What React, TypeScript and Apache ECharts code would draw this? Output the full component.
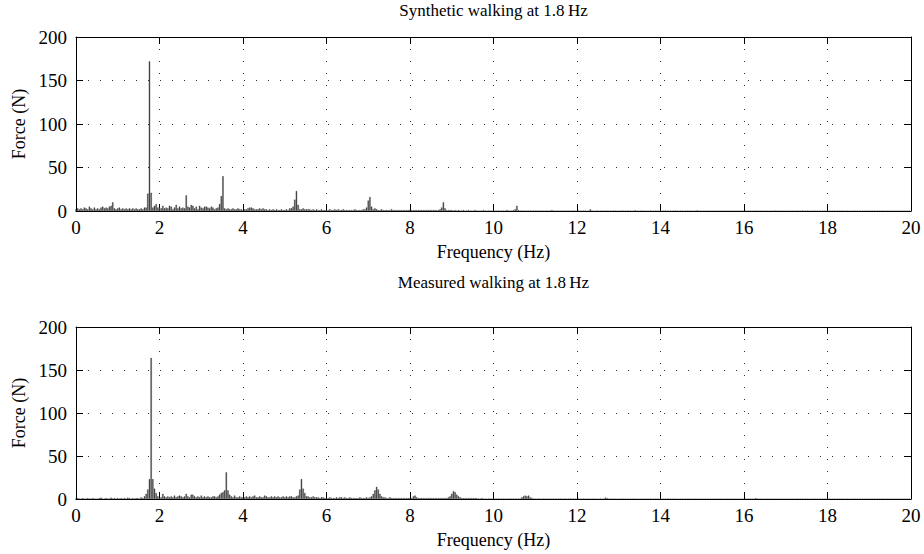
import React, { useEffect, useRef } from "react";
import * as echarts from "echarts";

// Frequency resolution of the spectra (Hz per bar)
const FREQ_STEP = 0.04;
const X_TICKS = [0, 2, 4, 6, 8, 10, 12, 14, 16, 18, 20];
const Y_TICKS = [0, 50, 100, 150, 200];
const TITLES = ["Synthetic walking at 1.8\u2009Hz", "Measured walking at 1.8\u2009Hz"];
const X_NAME = "Frequency (Hz)";
const Y_NAME = "Force (N)";

// Synthetic walking spectrum amplitude (N), one row per 1 Hz (25 bars of 0.04 Hz)
const synthetic: number[] = [
  2, 3, 2, 3, 2, 4, 3, 2, 5, 3, 2, 4, 2, 3, 2, 4, 5, 3, 4, 3, 5, 6, 10, 3, 2,
  3, 4, 2, 3, 2, 3, 2, 3, 2, 3, 2, 3, 2, 2, 3, 2, 4, 4, 20, 172, 21, 4, 6, 8, 4,
  4, 3, 6, 3, 4, 3, 6, 5, 2, 4, 7, 3, 5, 3, 4, 3, 18, 5, 4, 7, 6, 3, 5, 2, 6,
  4, 3, 5, 5, 4, 3, 5, 4, 2, 3, 4, 8, 17, 40, 3, 2, 3, 2, 2, 3, 2, 2, 3, 2, 2,
  1, 2, 2, 3, 4, 4, 3, 2, 2, 2, 3, 2, 3, 2, 2, 1, 2, 1, 2, 1, 2, 1, 1, 2, 1,
  1, 2, 1, 3, 3, 5, 13, 23, 7, 2, 2, 3, 2, 2, 2, 2, 1, 2, 1, 2, 1, 1, 2, 1, 1,
  1, 1, 2, 1, 1, 2, 1, 2, 1, 1, 2, 1, 1, 1, 1, 1, 1, 2, 1, 1, 1, 1, 2, 2, 4,
  12, 16, 5, 2, 3, 2, 1, 1, 2, 1, 1, 1, 1, 1, 2, 1, 1, 1, 1, 1, 1, 1, 1, 1, 1,
  1, 1, 1, 1, 1, 1, 1, 1, 1, 1, 1, 1, 1, 1, 1, 1, 1, 1, 2, 4, 10, 3, 1, 1, 1,
  1, 0.5, 1, 0.5, 1, 0.5, 0.5, 1, 0.5, 0.5, 1, 0.5, 0.5, 0.5, 1, 0.5, 0.5, 0.5, 0.5, 1, 0.5, 0.5, 0.5, 0.5, 0.5,
  0.5, 0.5, 0.5, 0.5, 0.5, 0.5, 0.5, 0.5, 1, 0.5, 0.5, 0.5, 1, 2, 6, 1, 0.5, 0.5, 0.5, 0.5, 0.5, 0.5, 0.5, 0.5, 0.5,
  0.5, 0.5, 0.3, 0.5, 0.5, 0.3, 0.5, 0.5, 0.3, 0.5, 1, 0.5, 0.3, 0.5, 0.5, 0.3, 0.5, 0.5, 0.3, 0.5, 0.5, 0.3, 0.5, 0.5, 0.3,
  0.3, 0.5, 0.3, 0.3, 0.5, 0.3, 0.3, 0.5, 2, 0.5, 0.3, 0.3, 0.5, 0.3, 0.3, 0.5, 0.3, 0.3, 0.5, 0.3, 0.3, 0.3, 0.5, 0.3, 0.3,
  0.3, 0.3, 0.5, 0.3, 0.3, 0.3, 0.5, 0.3, 0.3, 0.3, 0.8, 0.3, 0.3, 0.3, 0.5, 0.3, 0.3, 0.3, 0.3, 0.5, 0.3, 0.3, 0.3, 0.3, 0.3,
  0.3, 0.3, 0.3, 0.5, 0.3, 0.3, 0.3, 0.3, 0.3, 0.5, 0.3, 0.3, 0.3, 0.3, 0.3, 0.3, 0.5, 0.3, 0.3, 0.3, 0.3, 0.3, 0.8, 0.3, 0.3,
  0.3, 0.3, 0.3, 0.3, 0.5, 0.3, 0.3, 0.3, 0.3, 0.3, 0.3, 0.3, 0.3, 0.5, 0.3, 0.3, 0.3, 0.3, 0.3, 0.3, 0.3, 0.5, 0.3, 0.3, 0.3,
  0.3, 0.3, 0.3, 0.3, 0.3, 0.3, 0.3, 0.5, 0.3, 0.3, 0.3, 0.3, 0.3, 0.3, 0.3, 0.3, 0.3, 0.3, 0.3, 0.5, 0.3, 0.3, 0.3, 0.3, 0.3,
  0.3, 0.3, 0.3, 0.3, 0.3, 0.3, 0.3, 0.3, 0.3, 0.3, 0.5, 0.3, 0.3, 0.3, 0.3, 0.3, 0.3, 0.3, 0.3, 0.3, 0.3, 0.3, 0.3, 0.3, 0.3,
  0.3, 0.3, 0.3, 0.3, 0.3, 0.3, 0.3, 0.3, 0.3, 0.3, 0.3, 0.3, 0.3, 0.3, 0.3, 0.3, 0.3, 0.3, 0.3, 0.3, 0.3, 0.3, 0.3, 0.3, 0.3,
  0.3, 0.3, 0.3, 0.3, 0.3, 0.3, 0.3, 0.3, 0.3, 0.3, 0.3, 0.3, 0.3, 0.3, 0.3, 0.3, 0.3, 0.3, 0.3, 0.3, 0.3, 0.3, 0.3, 0.3, 0.3,
];

// Measured walking spectrum amplitude (N), one row per 1 Hz
const measured: number[] = [
  0.5, 1, 0.5, 0.5, 1, 0.5, 0.5, 1, 0.5, 0.5, 1, 0.5, 0.5, 0.5, 1, 1.5, 0.5, 0.5, 1, 0.5, 0.5, 1.5, 0.5, 1, 0.5,
  1, 0.5, 1, 0.5, 1, 0.5, 1.5, 1, 0.5, 1, 0.5, 1, 1, 0.5, 2, 1, 3, 6, 11, 23, 164, 23, 12, 7, 3,
  2, 2, 6, 3, 2, 3, 2, 3, 2, 4, 2, 3, 4, 3, 2, 3, 6, 3, 2, 5, 5, 3, 2, 3, 2,
  4, 2, 3, 2, 3, 2, 2, 3, 3, 2, 3, 5, 7, 8, 10, 31, 10, 5, 3, 2, 4, 2, 2, 3, 2,
  2, 2, 3, 2, 3, 2, 3, 4, 2, 2, 3, 2, 2, 4, 3, 2, 2, 3, 2, 3, 2, 3, 2, 2, 3,
  2, 3, 2, 3, 3, 2, 2, 3, 4, 11, 23, 12, 7, 3, 3, 2, 2, 3, 2, 2, 2, 1, 2, 2, 1,
  1, 1, 2, 1, 1, 1, 2, 1, 2, 2, 1, 2, 1, 1, 2, 1, 1, 1, 1, 1, 2, 1, 1, 1, 2,
  1, 2, 3, 6, 10, 14, 11, 6, 3, 2, 2, 1, 1, 2, 1, 1, 1, 1, 1, 1, 1, 1, 1, 1, 1,
  1, 1, 3, 4, 2, 1, 1, 1, 1, 1, 1, 1, 1, 1, 1, 1, 1, 1, 1, 1, 1, 1, 1, 2, 3,
  6, 9, 8, 5, 3, 2, 1, 1, 1, 1, 1, 1, 1, 1, 1, 1, 0.5, 0.5, 1, 0.5, 0.5, 0.5, 0.5, 0.5, 0.5,
  0.5, 0.5, 0.5, 0.5, 0.5, 0.5, 0.5, 0.5, 0.5, 0.5, 0.5, 0.5, 0.5, 0.5, 0.5, 0.5, 0.5, 2, 3, 4, 3, 4, 2, 1, 0.5,
  0.5, 0.3, 0.5, 0.5, 0.3, 0.5, 0.5, 0.3, 0.5, 0.5, 0.3, 0.5, 0.5, 0.3, 0.5, 0.5, 0.3, 0.5, 0.5, 0.3, 0.5, 0.5, 0.3, 0.5, 0.3,
  0.3, 0.5, 0.3, 0.3, 0.5, 0.3, 0.3, 0.5, 0.3, 0.3, 0.5, 0.3, 0.3, 0.3, 0.5, 0.3, 0.3, 1.5, 1, 0.3, 0.3, 0.5, 0.3, 0.3, 0.3,
  0.3, 0.3, 0.5, 0.3, 0.3, 0.3, 0.3, 0.3, 0.5, 0.3, 0.3, 0.3, 0.3, 0.3, 0.3, 0.5, 0.3, 0.3, 0.3, 0.3, 0.3, 0.3, 0.3, 0.5, 0.3,
  0.3, 0.3, 0.3, 0.3, 0.3, 0.5, 0.3, 0.3, 0.3, 0.3, 0.3, 0.3, 0.3, 0.3, 0.3, 0.3, 0.3, 0.5, 0.3, 0.3, 0.3, 0.3, 0.3, 0.3, 0.3,
  0.3, 0.3, 0.3, 0.3, 0.3, 0.3, 0.3, 0.3, 0.3, 0.3, 0.5, 0.3, 0.3, 0.3, 0.3, 0.3, 0.3, 0.3, 0.3, 0.3, 0.3, 0.3, 0.3, 0.3, 0.3,
  0.3, 0.3, 0.3, 0.3, 0.3, 0.3, 0.3, 1, 0.5, 0.3, 0.3, 0.3, 0.3, 0.3, 0.3, 0.3, 0.3, 0.3, 0.3, 0.3, 0.3, 0.3, 0.3, 0.3, 0.3,
  0.3, 0.3, 0.3, 0.3, 0.3, 0.3, 0.3, 0.3, 0.3, 0.3, 0.3, 0.3, 0.3, 0.3, 0.3, 0.3, 0.3, 0.3, 0.3, 0.3, 0.3, 0.3, 0.3, 0.3, 0.3,
  1, 0.5, 0.3, 0.3, 0.3, 0.3, 0.3, 0.3, 0.3, 0.3, 0.3, 0.3, 0.3, 0.3, 0.3, 0.3, 0.3, 0.3, 0.3, 0.3, 0.3, 0.3, 0.3, 0.3, 0.3,
  0.3, 0.3, 0.3, 0.3, 0.3, 0.3, 0.3, 0.3, 0.3, 0.3, 0.3, 0.3, 0.3, 0.3, 0.3, 0.3, 0.3, 0.3, 0.3, 0.3, 0.3, 0.3, 0.3, 0.3, 0.3,
];

const FONT = "'Liberation Serif', 'DejaVu Serif', serif";
const FS_TICK = 19;
const FS_NAME = 18;
const FS_TITLE = 17;

const toPairs = (vals: number[]) =>
  vals.map((v, i) => [Math.round(i * FREQ_STEP * 1000) / 1000, v]);

export default function App() {
  const ref = useRef<HTMLDivElement>(null);

  useEffect(() => {
    if (!ref.current) return;
    const chart = echarts.init(ref.current, undefined, { renderer: "svg" });

    const grids = [
      { left: 76, top: 37, width: 835, height: 174 },
      { left: 76, top: 327, width: 835, height: 172 },
    ];

    const dotted = { show: true, lineStyle: { color: "#333", width: 1, type: [1, 11] as any } };
    const axisLine = { show: true, onZero: false, lineStyle: { color: "#000", width: 1 } };
    const tickIn = { show: true, inside: true, length: 7, lineStyle: { color: "#000", width: 1 } };

    const xAxes: any[] = [];
    const yAxes: any[] = [];
    grids.forEach((_, g) => {
      xAxes.push({
        gridIndex: g,
        type: "value",
        min: X_TICKS[0],
        max: X_TICKS[X_TICKS.length - 1],
        interval: 2,
        position: "bottom",
        axisLine,
        axisTick: tickIn,
        axisLabel: { color: "#000", fontFamily: FONT, fontSize: FS_TICK, margin: 7 },
        splitLine: dotted,
        name: X_NAME,
        nameLocation: "middle",
        nameGap: 32,
        nameTextStyle: { color: "#000", fontFamily: FONT, fontSize: FS_NAME },
      });
      xAxes.push({
        gridIndex: g,
        type: "value",
        min: X_TICKS[0],
        max: X_TICKS[X_TICKS.length - 1],
        interval: 2,
        position: "top",
        axisLine,
        axisTick: tickIn,
        axisLabel: { show: false },
        splitLine: { show: false },
      });
      yAxes.push({
        gridIndex: g,
        type: "value",
        min: Y_TICKS[0],
        max: Y_TICKS[Y_TICKS.length - 1],
        interval: 50,
        position: "left",
        axisLine,
        axisTick: tickIn,
        axisLabel: { color: "#000", fontFamily: FONT, fontSize: FS_TICK, margin: 9 },
        splitLine: dotted,
        name: Y_NAME,
        nameLocation: "middle",
        nameGap: 48,
        nameTextStyle: { color: "#000", fontFamily: FONT, fontSize: FS_NAME },
      });
      yAxes.push({
        gridIndex: g,
        type: "value",
        min: Y_TICKS[0],
        max: Y_TICKS[Y_TICKS.length - 1],
        interval: 50,
        position: "right",
        axisLine,
        axisTick: tickIn,
        axisLabel: { show: false },
        splitLine: { show: false },
      });
    });

    const barStyle = { color: "#4d4d4d", borderColor: "#1a1a1a", borderWidth: 0.3 };

    chart.setOption({
      animation: false,
      backgroundColor: "#fff",
      grid: grids,
      xAxis: xAxes,
      yAxis: yAxes,
      graphic: [
        {
          type: "text",
          x: 493.5,
          y: 10,
          style: { text: TITLES[0], textAlign: "center", textVerticalAlign: "middle", font: `${FS_TITLE}px ${FONT}`, fill: "#000" },
        },
        {
          type: "text",
          x: 493.5,
          y: 282,
          style: { text: TITLES[1], textAlign: "center", textVerticalAlign: "middle", font: `${FS_TITLE}px ${FONT}`, fill: "#000" },
        },
      ],
      series: [
        {
          type: "bar",
          xAxisIndex: 0,
          yAxisIndex: 0,
          data: toPairs(synthetic),
          barWidth: 1.3,
          itemStyle: barStyle,
          silent: true,
        },
        {
          type: "bar",
          xAxisIndex: 2,
          yAxisIndex: 2,
          data: toPairs(measured),
          barWidth: 1.3,
          itemStyle: barStyle,
          silent: true,
        },
      ],
    });

    return () => chart.dispose();
  }, []);

  return (
    <div
      ref={ref}
      style={{ position: "absolute", left: 0, top: 0, width: 924, height: 554, background: "#fff" }}
    />
  );
}
